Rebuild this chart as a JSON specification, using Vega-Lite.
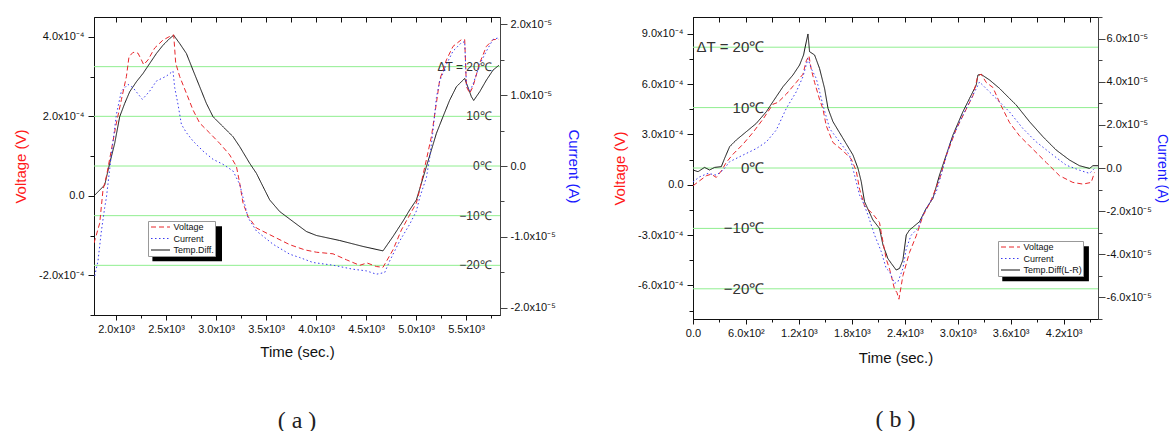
{
  "$schema": "https://vega.github.io/schema/vega-lite/v6.json",
  "padding": {"left": 13, "top": 10, "right": 0, "bottom": 0},
  "spacing": 31,
  "datasets": {
    "a": [
      {"s":"Voltage","t":1780,"y":-1.19e-4},{"s":"Voltage","t":1837,"y":-0.69e-4},{"s":"Voltage","t":1870,"y":0.15e-4},{"s":"Voltage","t":1904,"y":0.49e-4},{"s":"Voltage","t":1954,"y":1.16e-4},{"s":"Voltage","t":2004,"y":1.83e-4},{"s":"Voltage","t":2054,"y":2.42e-4},{"s":"Voltage","t":2104,"y":3.0e-4},{"s":"Voltage","t":2130,"y":3.5e-4},{"s":"Voltage","t":2170,"y":3.61e-4},{"s":"Voltage","t":2220,"y":3.59e-4},{"s":"Voltage","t":2254,"y":3.42e-4},{"s":"Voltage","t":2277,"y":3.30e-4},{"s":"Voltage","t":2320,"y":3.42e-4},{"s":"Voltage","t":2387,"y":3.72e-4},{"s":"Voltage","t":2470,"y":3.92e-4},{"s":"Voltage","t":2537,"y":4.01e-4},{"s":"Voltage","t":2577,"y":4.05e-4},{"s":"Voltage","t":2597,"y":3.34e-4},{"s":"Voltage","t":2637,"y":3.0e-4},{"s":"Voltage","t":2704,"y":2.58e-4},{"s":"Voltage","t":2770,"y":2.16e-4},{"s":"Voltage","t":2837,"y":1.83e-4},{"s":"Voltage","t":2937,"y":1.58e-4},{"s":"Voltage","t":3037,"y":1.32e-4},{"s":"Voltage","t":3137,"y":1.03e-4},{"s":"Voltage","t":3204,"y":0.74e-4},{"s":"Voltage","t":3237,"y":0.32e-4},{"s":"Voltage","t":3270,"y":-0.18e-4},{"s":"Voltage","t":3320,"y":-0.52e-4},{"s":"Voltage","t":3404,"y":-0.81e-4},{"s":"Voltage","t":3570,"y":-1.02e-4},{"s":"Voltage","t":3737,"y":-1.23e-4},{"s":"Voltage","t":3887,"y":-1.36e-4},{"s":"Voltage","t":4004,"y":-1.42e-4},{"s":"Voltage","t":4170,"y":-1.46e-4},{"s":"Voltage","t":4304,"y":-1.61e-4},{"s":"Voltage","t":4437,"y":-1.75e-4},{"s":"Voltage","t":4510,"y":-1.69e-4},{"s":"Voltage","t":4604,"y":-1.78e-4},{"s":"Voltage","t":4670,"y":-1.80e-4},{"s":"Voltage","t":4770,"y":-1.36e-4},{"s":"Voltage","t":4854,"y":-0.86e-4},{"s":"Voltage","t":4937,"y":-0.48e-4},{"s":"Voltage","t":5004,"y":-0.18e-4},{"s":"Voltage","t":5037,"y":0.15e-4},{"s":"Voltage","t":5104,"y":0.91e-4},{"s":"Voltage","t":5154,"y":1.49e-4},{"s":"Voltage","t":5204,"y":2.33e-4},{"s":"Voltage","t":5237,"y":2.92e-4},{"s":"Voltage","t":5304,"y":3.42e-4},{"s":"Voltage","t":5370,"y":3.76e-4},{"s":"Voltage","t":5454,"y":3.93e-4},{"s":"Voltage","t":5487,"y":3.93e-4},{"s":"Voltage","t":5504,"y":2.75e-4},{"s":"Voltage","t":5537,"y":2.58e-4},{"s":"Voltage","t":5570,"y":2.75e-4},{"s":"Voltage","t":5637,"y":3.34e-4},{"s":"Voltage","t":5704,"y":3.76e-4},{"s":"Voltage","t":5770,"y":3.93e-4},{"s":"Voltage","t":5830,"y":3.94e-4},
      {"s":"Current","t":1787,"y":-1.549e-5},{"s":"Current","t":1820,"y":-1.338e-5},{"s":"Current","t":1854,"y":-0.915e-5},{"s":"Current","t":1887,"y":-0.586e-5},{"s":"Current","t":1904,"y":-0.445e-5},{"s":"Current","t":1954,"y":0.165e-5},{"s":"Current","t":2004,"y":0.728e-5},{"s":"Current","t":2054,"y":1.056e-5},{"s":"Current","t":2120,"y":1.150e-5},{"s":"Current","t":2170,"y":1.104e-5},{"s":"Current","t":2264,"y":0.939e-5},{"s":"Current","t":2337,"y":1.056e-5},{"s":"Current","t":2404,"y":1.197e-5},{"s":"Current","t":2504,"y":1.267e-5},{"s":"Current","t":2570,"y":1.338e-5},{"s":"Current","t":2587,"y":1.104e-5},{"s":"Current","t":2620,"y":0.869e-5},{"s":"Current","t":2654,"y":0.587e-5},{"s":"Current","t":2704,"y":0.470e-5},{"s":"Current","t":2770,"y":0.352e-5},{"s":"Current","t":2870,"y":0.211e-5},{"s":"Current","t":2970,"y":0.094e-5},{"s":"Current","t":3070,"y":0.024e-5},{"s":"Current","t":3170,"y":-0.070e-5},{"s":"Current","t":3237,"y":-0.258e-5},{"s":"Current","t":3287,"y":-0.539e-5},{"s":"Current","t":3320,"y":-0.727e-5},{"s":"Current","t":3404,"y":-0.915e-5},{"s":"Current","t":3570,"y":-1.102e-5},{"s":"Current","t":3737,"y":-1.243e-5},{"s":"Current","t":3837,"y":-1.290e-5},{"s":"Current","t":3970,"y":-1.360e-5},{"s":"Current","t":4170,"y":-1.398e-5},{"s":"Current","t":4370,"y":-1.455e-5},{"s":"Current","t":4504,"y":-1.478e-5},{"s":"Current","t":4604,"y":-1.525e-5},{"s":"Current","t":4687,"y":-1.501e-5},{"s":"Current","t":4737,"y":-1.338e-5},{"s":"Current","t":4837,"y":-1.056e-5},{"s":"Current","t":4937,"y":-0.821e-5},{"s":"Current","t":5004,"y":-0.634e-5},{"s":"Current","t":5037,"y":-0.445e-5},{"s":"Current","t":5104,"y":-0.163e-5},{"s":"Current","t":5137,"y":0.118e-5},{"s":"Current","t":5170,"y":0.493e-5},{"s":"Current","t":5204,"y":0.963e-5},{"s":"Current","t":5237,"y":1.197e-5},{"s":"Current","t":5304,"y":1.432e-5},{"s":"Current","t":5370,"y":1.619e-5},{"s":"Current","t":5454,"y":1.737e-5},{"s":"Current","t":5487,"y":1.752e-5},{"s":"Current","t":5504,"y":1.150e-5},{"s":"Current","t":5537,"y":1.056e-5},{"s":"Current","t":5570,"y":1.150e-5},{"s":"Current","t":5637,"y":1.432e-5},{"s":"Current","t":5704,"y":1.619e-5},{"s":"Current","t":5770,"y":1.784e-5},{"s":"Current","t":5830,"y":1.808e-5},
      {"s":"Temp.Diff.","t":1780,"y":-6.03},{"s":"Temp.Diff.","t":1887,"y":-3.82},{"s":"Temp.Diff.","t":1937,"y":0.54},{"s":"Temp.Diff.","t":1987,"y":4.56},{"s":"Temp.Diff.","t":2037,"y":9.93},{"s":"Temp.Diff.","t":2087,"y":12.6},{"s":"Temp.Diff.","t":2137,"y":14.95},{"s":"Temp.Diff.","t":2204,"y":16.96},{"s":"Temp.Diff.","t":2270,"y":18.63},{"s":"Temp.Diff.","t":2337,"y":20.64},{"s":"Temp.Diff.","t":2404,"y":22.65},{"s":"Temp.Diff.","t":2470,"y":24.32},{"s":"Temp.Diff.","t":2537,"y":25.67},{"s":"Temp.Diff.","t":2577,"y":26.33},{"s":"Temp.Diff.","t":2637,"y":24.66},{"s":"Temp.Diff.","t":2704,"y":22.65},{"s":"Temp.Diff.","t":2770,"y":19.3},{"s":"Temp.Diff.","t":2837,"y":15.96},{"s":"Temp.Diff.","t":2904,"y":12.6},{"s":"Temp.Diff.","t":2970,"y":9.93},{"s":"Temp.Diff.","t":3070,"y":7.92},{"s":"Temp.Diff.","t":3170,"y":5.91},{"s":"Temp.Diff.","t":3237,"y":3.9},{"s":"Temp.Diff.","t":3337,"y":0.54},{"s":"Temp.Diff.","t":3404,"y":-1.47},{"s":"Temp.Diff.","t":3470,"y":-4.14},{"s":"Temp.Diff.","t":3537,"y":-6.83},{"s":"Temp.Diff.","t":3637,"y":-9.17},{"s":"Temp.Diff.","t":3770,"y":-11.18},{"s":"Temp.Diff.","t":3904,"y":-13.19},{"s":"Temp.Diff.","t":4004,"y":-13.99},{"s":"Temp.Diff.","t":4237,"y":-15.0},{"s":"Temp.Diff.","t":4470,"y":-16.2},{"s":"Temp.Diff.","t":4670,"y":-17.09},{"s":"Temp.Diff.","t":4770,"y":-14.19},{"s":"Temp.Diff.","t":4870,"y":-11.1},{"s":"Temp.Diff.","t":4937,"y":-8.84},{"s":"Temp.Diff.","t":5004,"y":-6.83},{"s":"Temp.Diff.","t":5104,"y":-0.12},{"s":"Temp.Diff.","t":5204,"y":6.57},{"s":"Temp.Diff.","t":5270,"y":9.93},{"s":"Temp.Diff.","t":5337,"y":13.27},{"s":"Temp.Diff.","t":5404,"y":15.96},{"s":"Temp.Diff.","t":5487,"y":17.63},{"s":"Temp.Diff.","t":5554,"y":13.95},{"s":"Temp.Diff.","t":5577,"y":13.2},{"s":"Temp.Diff.","t":5637,"y":14.95},{"s":"Temp.Diff.","t":5704,"y":17.29},{"s":"Temp.Diff.","t":5770,"y":19.3},{"s":"Temp.Diff.","t":5830,"y":20.3}
    ],
    "b": [
      {"s":"Voltage","t":0,"y":-0.06e-4},{"s":"Voltage","t":75,"y":0.24e-4},{"s":"Voltage","t":151,"y":0.54e-4},{"s":"Voltage","t":207,"y":0.63e-4},{"s":"Voltage","t":264,"y":0.44e-4},{"s":"Voltage","t":321,"y":0.83e-4},{"s":"Voltage","t":377,"y":1.33e-4},{"s":"Voltage","t":453,"y":1.82e-4},{"s":"Voltage","t":567,"y":2.42e-4},{"s":"Voltage","t":680,"y":3.12e-4},{"s":"Voltage","t":793,"y":3.91e-4},{"s":"Voltage","t":906,"y":4.80e-4},{"s":"Voltage","t":963,"y":4.91e-4},{"s":"Voltage","t":1057,"y":5.40e-4},{"s":"Voltage","t":1170,"y":6.10e-4},{"s":"Voltage","t":1246,"y":6.59e-4},{"s":"Voltage","t":1284,"y":7.39e-4},{"s":"Voltage","t":1314,"y":7.69e-4},{"s":"Voltage","t":1340,"y":6.89e-4},{"s":"Voltage","t":1378,"y":6.10e-4},{"s":"Voltage","t":1434,"y":5.10e-4},{"s":"Voltage","t":1473,"y":4.51e-4},{"s":"Voltage","t":1510,"y":3.52e-4},{"s":"Voltage","t":1586,"y":2.52e-4},{"s":"Voltage","t":1700,"y":2.03e-4},{"s":"Voltage","t":1794,"y":1.53e-4},{"s":"Voltage","t":1850,"y":0.83e-4},{"s":"Voltage","t":1888,"y":-0.26e-4},{"s":"Voltage","t":1944,"y":-1.25e-4},{"s":"Voltage","t":2039,"y":-1.75e-4},{"s":"Voltage","t":2114,"y":-2.25e-4},{"s":"Voltage","t":2133,"y":-2.84e-4},{"s":"Voltage","t":2190,"y":-4.43e-4},{"s":"Voltage","t":2228,"y":-5.03e-4},{"s":"Voltage","t":2247,"y":-5.42e-4},{"s":"Voltage","t":2284,"y":-6.22e-4},{"s":"Voltage","t":2311,"y":-6.42e-4},{"s":"Voltage","t":2334,"y":-6.82e-4},{"s":"Voltage","t":2379,"y":-5.42e-4},{"s":"Voltage","t":2454,"y":-4.03e-4},{"s":"Voltage","t":2530,"y":-3.04e-4},{"s":"Voltage","t":2606,"y":-1.85e-4},{"s":"Voltage","t":2689,"y":-1.05e-4},{"s":"Voltage","t":2794,"y":0.33e-4},{"s":"Voltage","t":2870,"y":1.73e-4},{"s":"Voltage","t":2983,"y":3.31e-4},{"s":"Voltage","t":3097,"y":4.51e-4},{"s":"Voltage","t":3172,"y":5.30e-4},{"s":"Voltage","t":3229,"y":6.50e-4},{"s":"Voltage","t":3266,"y":6.59e-4},{"s":"Voltage","t":3323,"y":6.10e-4},{"s":"Voltage","t":3399,"y":5.80e-4},{"s":"Voltage","t":3474,"y":4.91e-4},{"s":"Voltage","t":3587,"y":3.71e-4},{"s":"Voltage","t":3700,"y":2.92e-4},{"s":"Voltage","t":3852,"y":2.12e-4},{"s":"Voltage","t":4003,"y":1.33e-4},{"s":"Voltage","t":4154,"y":0.54e-4},{"s":"Voltage","t":4305,"y":0.14e-4},{"s":"Voltage","t":4419,"y":0.04e-4},{"s":"Voltage","t":4513,"y":0.14e-4},{"s":"Voltage","t":4550,"y":0.73e-4},
      {"s":"Current","t":0,"y":-0.64e-5},{"s":"Current","t":75,"y":-0.41e-5},{"s":"Current","t":170,"y":-0.25e-5},{"s":"Current","t":264,"y":-0.33e-5},{"s":"Current","t":340,"y":-0.10e-5},{"s":"Current","t":415,"y":0.29e-5},{"s":"Current","t":567,"y":0.60e-5},{"s":"Current","t":717,"y":0.90e-5},{"s":"Current","t":831,"y":1.21e-5},{"s":"Current","t":944,"y":1.76e-5},{"s":"Current","t":1057,"y":2.76e-5},{"s":"Current","t":1170,"y":3.53e-5},{"s":"Current","t":1246,"y":4.23e-5},{"s":"Current","t":1303,"y":5.07e-5},{"s":"Current","t":1340,"y":4.61e-5},{"s":"Current","t":1397,"y":4.15e-5},{"s":"Current","t":1473,"y":2.91e-5},{"s":"Current","t":1548,"y":1.83e-5},{"s":"Current","t":1661,"y":1.21e-5},{"s":"Current","t":1774,"y":0.60e-5},{"s":"Current","t":1831,"y":-0.33e-5},{"s":"Current","t":1888,"y":-1.26e-5},{"s":"Current","t":1926,"y":-1.57e-5},{"s":"Current","t":1983,"y":-2.18e-5},{"s":"Current","t":2058,"y":-3.11e-5},{"s":"Current","t":2134,"y":-3.88e-5},{"s":"Current","t":2190,"y":-4.66e-5},{"s":"Current","t":2228,"y":-4.81e-5},{"s":"Current","t":2284,"y":-5.35e-5},{"s":"Current","t":2323,"y":-5.27e-5},{"s":"Current","t":2379,"y":-4.66e-5},{"s":"Current","t":2417,"y":-3.73e-5},{"s":"Current","t":2473,"y":-3.11e-5},{"s":"Current","t":2549,"y":-2.80e-5},{"s":"Current","t":2606,"y":-2.18e-5},{"s":"Current","t":2643,"y":-1.88e-5},{"s":"Current","t":2757,"y":-1.10e-5},{"s":"Current","t":2832,"y":-0.02e-5},{"s":"Current","t":2907,"y":1.06e-5},{"s":"Current","t":3021,"y":2.14e-5},{"s":"Current","t":3134,"y":3.07e-5},{"s":"Current","t":3210,"y":3.68e-5},{"s":"Current","t":3247,"y":3.99e-5},{"s":"Current","t":3323,"y":3.68e-5},{"s":"Current","t":3436,"y":3.22e-5},{"s":"Current","t":3587,"y":2.60e-5},{"s":"Current","t":3739,"y":1.83e-5},{"s":"Current","t":3890,"y":1.21e-5},{"s":"Current","t":4079,"y":0.60e-5},{"s":"Current","t":4230,"y":0.13e-5},{"s":"Current","t":4380,"y":-0.10e-5},{"s":"Current","t":4494,"y":-0.25e-5},{"s":"Current","t":4550,"y":-0.02e-5},
      {"s":"Temp.Diff(L-R)","t":0,"y":-0.33},{"s":"Temp.Diff(L-R)","t":57,"y":-0.61},{"s":"Temp.Diff(L-R)","t":131,"y":0.10},{"s":"Temp.Diff(L-R)","t":188,"y":-0.33},{"s":"Temp.Diff(L-R)","t":245,"y":0.10},{"s":"Temp.Diff(L-R)","t":321,"y":0.22},{"s":"Temp.Diff(L-R)","t":358,"y":1.59},{"s":"Temp.Diff(L-R)","t":415,"y":3.53},{"s":"Temp.Diff(L-R)","t":491,"y":4.64},{"s":"Temp.Diff(L-R)","t":604,"y":6.01},{"s":"Temp.Diff(L-R)","t":717,"y":7.38},{"s":"Temp.Diff(L-R)","t":831,"y":9.32},{"s":"Temp.Diff(L-R)","t":906,"y":10.98},{"s":"Temp.Diff(L-R)","t":1020,"y":13.46},{"s":"Temp.Diff(L-R)","t":1133,"y":15.40},{"s":"Temp.Diff(L-R)","t":1208,"y":17.05},{"s":"Temp.Diff(L-R)","t":1253,"y":18.71},{"s":"Temp.Diff(L-R)","t":1276,"y":20.36},{"s":"Temp.Diff(L-R)","t":1303,"y":22.19},{"s":"Temp.Diff(L-R)","t":1321,"y":19.26},{"s":"Temp.Diff(L-R)","t":1378,"y":18.71},{"s":"Temp.Diff(L-R)","t":1434,"y":16.49},{"s":"Temp.Diff(L-R)","t":1491,"y":13.18},{"s":"Temp.Diff(L-R)","t":1530,"y":9.87},{"s":"Temp.Diff(L-R)","t":1586,"y":7.67},{"s":"Temp.Diff(L-R)","t":1700,"y":4.90},{"s":"Temp.Diff(L-R)","t":1813,"y":2.15},{"s":"Temp.Diff(L-R)","t":1870,"y":-0.07},{"s":"Temp.Diff(L-R)","t":1907,"y":-2.27},{"s":"Temp.Diff(L-R)","t":1944,"y":-5.58},{"s":"Temp.Diff(L-R)","t":2039,"y":-8.61},{"s":"Temp.Diff(L-R)","t":2114,"y":-10.0},{"s":"Temp.Diff(L-R)","t":2153,"y":-12.75},{"s":"Temp.Diff(L-R)","t":2209,"y":-15.0},{"s":"Temp.Diff(L-R)","t":2247,"y":-15.79},{"s":"Temp.Diff(L-R)","t":2303,"y":-16.89},{"s":"Temp.Diff(L-R)","t":2341,"y":-16.62},{"s":"Temp.Diff(L-R)","t":2379,"y":-15.23},{"s":"Temp.Diff(L-R)","t":2417,"y":-11.09},{"s":"Temp.Diff(L-R)","t":2454,"y":-10.26},{"s":"Temp.Diff(L-R)","t":2567,"y":-8.89},{"s":"Temp.Diff(L-R)","t":2643,"y":-6.69},{"s":"Temp.Diff(L-R)","t":2719,"y":-5.03},{"s":"Temp.Diff(L-R)","t":2794,"y":-1.16},{"s":"Temp.Diff(L-R)","t":2870,"y":2.15},{"s":"Temp.Diff(L-R)","t":2946,"y":5.46},{"s":"Temp.Diff(L-R)","t":3059,"y":9.32},{"s":"Temp.Diff(L-R)","t":3134,"y":11.52},{"s":"Temp.Diff(L-R)","t":3210,"y":13.74},{"s":"Temp.Diff(L-R)","t":3229,"y":15.40},{"s":"Temp.Diff(L-R)","t":3266,"y":15.50},{"s":"Temp.Diff(L-R)","t":3361,"y":14.57},{"s":"Temp.Diff(L-R)","t":3474,"y":13.18},{"s":"Temp.Diff(L-R)","t":3587,"y":11.52},{"s":"Temp.Diff(L-R)","t":3663,"y":10.43},{"s":"Temp.Diff(L-R)","t":3814,"y":7.67},{"s":"Temp.Diff(L-R)","t":3966,"y":5.18},{"s":"Temp.Diff(L-R)","t":4116,"y":2.98},{"s":"Temp.Diff(L-R)","t":4267,"y":1.32},{"s":"Temp.Diff(L-R)","t":4380,"y":0.38},{"s":"Temp.Diff(L-R)","t":4494,"y":-0.07},{"s":"Temp.Diff(L-R)","t":4532,"y":0.38},{"s":"Temp.Diff(L-R)","t":4590,"y":0.38}
    ],
    "temps": [
      {"T":20,"label":"ΔT = 20℃"},{"T":10,"label":"10℃"},{"T":0,"label":"0℃"},{"T":-10,"label":"−10℃"},{"T":-20,"label":"−20℃"}
    ]
  },
  "hconcat": [
    {
      "width": 406,
      "height": 298,
      "title": {"text": "( a )", "orient": "bottom", "anchor": "middle", "frame": "group", "offset": 50, "font": "Liberation Serif", "fontSize": 24, "fontWeight": "normal", "color": "#222"},
      "data": {"name": "a"},
      "layer": [
        {
          "layer": [
            {
              "data": {"name": "temps"},
              "mark": {"type": "rule", "color": "#90ee90", "strokeWidth": 1},
              "encoding": {
                "y": {"field": "T", "type": "quantitative", "scale": {"domain": [-30, 30], "nice": false, "zero": false}, "axis": null}
              }
            },
            {
              "data": {"values": [{}]},
              "mark": {"type": "rect", "color": "black"},
              "encoding": {
                "x": {"datum": 2364, "type": "quantitative", "scale": {"domain": [1780, 5840], "nice": false, "zero": false}, "axis": null},
                "x2": {"datum": 3060},
                "y": {"datum": -12.14, "type": "quantitative", "scale": {"domain": [-30, 30], "nice": false, "zero": false}, "axis": null},
                "y2": {"datum": -19.16}
              }
            },
            {
              "data": {"name": "temps"},
              "mark": {"type": "text", "align": "right", "baseline": "middle", "fontSize": 12, "font": "Liberation Sans", "color": "#333"},
              "encoding": {
                "x": {"datum": 5757, "type": "quantitative", "scale": {"domain": [1780, 5840], "nice": false, "zero": false}, "axis": null},
                "y": {"field": "T", "type": "quantitative", "scale": {"domain": [-30, 30], "nice": false, "zero": false}, "axis": null},
                "text": {"field": "label"}
              }
            },
            {
              "transform": [{"filter": "datum.s == 'Temp.Diff.'"}],
              "mark": {"type": "line", "strokeWidth": 1, "clip": true},
              "encoding": {
                "x": {"field": "t", "type": "quantitative", "scale": {"domain": [1780, 5840], "nice": false, "zero": false}, "axis": null},
                "y": {"field": "y", "type": "quantitative", "scale": {"domain": [-30, 30], "nice": false, "zero": false}, "axis": null},
                "color": {"field": "s", "type": "nominal", "scale": {"domain": ["Voltage", "Current", "Temp.Diff."], "range": ["#e8262b", "#3b3bf0", "#111111"]},
                  "legend": {"orient": "none", "legendX": 54, "legendY": 204, "title": null, "direction": "vertical", "fillColor": "white", "strokeColor": "#999", "padding": 0.5, "symbolType": "M-0.6,0H3.2", "symbolSize": 100, "symbolStrokeWidth": 1, "labelFontSize": 9, "labelFont": "Liberation Sans", "labelOffset": 14, "rowPadding": 0.5, "labelColor": "#111"}},
                "strokeDash": {"field": "s", "type": "nominal", "scale": {"domain": ["Voltage", "Current", "Temp.Diff."], "range": [[5, 3], [1.5, 2.5], [1, 0]]},
                  "legend": {"orient": "none", "legendX": 54, "legendY": 204, "title": null, "direction": "vertical", "fillColor": "white", "strokeColor": "#999", "padding": 0.5, "symbolType": "M-0.6,0H3.2", "symbolSize": 100, "symbolStrokeWidth": 1, "labelFontSize": 9, "labelFont": "Liberation Sans", "labelOffset": 14, "rowPadding": 0.5, "labelColor": "#111"}}
              }
            }
          ]
        },
        {
          "transform": [{"filter": "datum.s == 'Voltage'"}],
          "mark": {"type": "line", "strokeWidth": 1, "clip": true},
          "encoding": {
            "x": {"field": "t", "type": "quantitative", "scale": {"domain": [1780, 5840], "nice": false, "zero": false},
              "axis": {"orient": "bottom", "values": [2000, 2250, 2500, 2750, 3000, 3250, 3500, 3750, 4000, 4250, 4500, 4750, 5000, 5250, 5500, 5750],
                "labelExpr": "datum.value % 500 == 0 ? format(datum.value/1000, '.1f') + 'x10³' : ''",
                "tickSize": {"condition": {"test": "datum.value % 500 != 0", "value": 3}, "value": 5},
                "title": "Time (sec.)", "titlePadding": 10, "labelPadding": 3}},
            "y": {"field": "y", "type": "quantitative", "scale": {"domain": [-3e-4, 4.5e-4], "nice": false, "zero": false},
              "axis": {"orient": "left", "values": [-3e-4, -2e-4, -1e-4, 0, 1e-4, 2e-4, 3e-4, 4e-4],
                "labelExpr": "round(datum.value*1e4) % 2 != 0 ? '' : datum.value == 0 ? '0.0' : (datum.value < 0 ? '-' : '') + format(abs(datum.value)*1e4, '.1f') + 'x10⁻⁴'",
                "tickSize": {"condition": {"test": "round(datum.value*1e4) % 2 != 0", "value": 4}, "value": 6},
                "title": "Voltage (V)", "titleColor": "#ff1a1a", "labelPadding": 4, "titlePadding": 10}},
            "color": {"field": "s", "type": "nominal", "scale": {"domain": ["Voltage", "Current", "Temp.Diff."], "range": ["#e8262b", "#3b3bf0", "#111111"]},
              "legend": {"orient": "none", "legendX": 54, "legendY": 204, "title": null, "direction": "vertical", "fillColor": "white", "strokeColor": "#999", "padding": 0.5, "symbolType": "M-0.6,0H3.2", "symbolSize": 100, "symbolStrokeWidth": 1, "labelFontSize": 9, "labelFont": "Liberation Sans", "labelOffset": 14, "rowPadding": 0.5, "labelColor": "#111"}},
            "strokeDash": {"field": "s", "type": "nominal", "scale": {"domain": ["Voltage", "Current", "Temp.Diff."], "range": [[5, 3], [1.5, 2.5], [1, 0]]},
              "legend": {"orient": "none", "legendX": 54, "legendY": 204, "title": null, "direction": "vertical", "fillColor": "white", "strokeColor": "#999", "padding": 0.5, "symbolType": "M-0.6,0H3.2", "symbolSize": 100, "symbolStrokeWidth": 1, "labelFontSize": 9, "labelFont": "Liberation Sans", "labelOffset": 14, "rowPadding": 0.5, "labelColor": "#111"}}
          }
        },
        {
          "transform": [{"filter": "datum.s == 'Current'"}],
          "mark": {"type": "line", "strokeWidth": 1, "clip": true},
          "encoding": {
            "x": {"field": "t", "type": "quantitative", "scale": {"domain": [1780, 5840], "nice": false, "zero": false},
              "axis": {"orient": "top", "values": [2000, 2250, 2500, 2750, 3000, 3250, 3500, 3750, 4000, 4250, 4500, 4750, 5000, 5250, 5500, 5750], "labels": false, "tickSize": -5, "title": null, "domain": false}},
            "y": {"field": "y", "type": "quantitative", "scale": {"domain": [-2.1e-5, 2.1e-5], "nice": false, "zero": false},
              "axis": {"orient": "right", "values": [-2e-5, -1.5e-5, -1e-5, -5e-6, 0, 5e-6, 1e-5, 1.5e-5, 2e-5],
                "labelExpr": "round(datum.value*2e5) % 2 != 0 ? '' : datum.value == 0 ? '0.0' : (datum.value < 0 ? '-' : '') + format(abs(datum.value)*1e5, '.1f') + 'x10⁻⁵'",
                "tickSize": {"condition": {"test": "round(datum.value*2e5) % 2 != 0", "value": 4}, "value": 7},
                "title": "Current (A)", "titleColor": "#1a1aff", "labelPadding": 3, "titlePadding": 10, "domainColor": "#444", "tickColor": "#444"}},
            "color": {"field": "s", "type": "nominal", "scale": {"domain": ["Voltage", "Current", "Temp.Diff."], "range": ["#e8262b", "#3b3bf0", "#111111"]},
              "legend": {"orient": "none", "legendX": 54, "legendY": 204, "title": null, "direction": "vertical", "fillColor": "white", "strokeColor": "#999", "padding": 0.5, "symbolType": "M-0.6,0H3.2", "symbolSize": 100, "symbolStrokeWidth": 1, "labelFontSize": 9, "labelFont": "Liberation Sans", "labelOffset": 14, "rowPadding": 0.5, "labelColor": "#111"}},
            "strokeDash": {"field": "s", "type": "nominal", "scale": {"domain": ["Voltage", "Current", "Temp.Diff."], "range": [[5, 3], [1.5, 2.5], [1, 0]]},
              "legend": {"orient": "none", "legendX": 54, "legendY": 204, "title": null, "direction": "vertical", "fillColor": "white", "strokeColor": "#999", "padding": 0.5, "symbolType": "M-0.6,0H3.2", "symbolSize": 100, "symbolStrokeWidth": 1, "labelFontSize": 9, "labelFont": "Liberation Sans", "labelOffset": 14, "rowPadding": 0.5, "labelColor": "#111"}}
          }
        }
      ],
      "resolve": {"scale": {"y": "independent"}, "axis": {"x": "independent"}}
    },
    {
      "width": 405,
      "height": 302,
      "title": {"text": "( b )", "orient": "bottom", "anchor": "middle", "frame": "group", "offset": 43, "font": "Liberation Serif", "fontSize": 24, "fontWeight": "normal", "color": "#222"},
      "data": {"name": "b"},
      "layer": [
        {
          "layer": [
            {
              "data": {"name": "temps"},
              "mark": {"type": "rule", "color": "#90ee90", "strokeWidth": 1},
              "encoding": {
                "y": {"field": "T", "type": "quantitative", "scale": {"domain": [-25, 25], "nice": false, "zero": false}, "axis": null}
              }
            },
            {
              "data": {"values": [{}]},
              "mark": {"type": "rect", "color": "black"},
              "encoding": {
                "x": {"datum": 3505, "type": "quantitative", "scale": {"domain": [0, 4590], "nice": false, "zero": false}, "axis": null},
                "x2": {"datum": 4487},
                "y": {"datum": -12.94, "type": "quantitative", "scale": {"domain": [-25, 25], "nice": false, "zero": false}, "axis": null},
                "y2": {"datum": -18.74}
              }
            },
            {
              "data": {"name": "temps"},
              "mark": {"type": "text", "align": "right", "baseline": "middle", "fontSize": 15, "font": "Liberation Sans", "color": "#333"},
              "encoding": {
                "x": {"datum": 808, "type": "quantitative", "scale": {"domain": [0, 4590], "nice": false, "zero": false}, "axis": null},
                "y": {"field": "T", "type": "quantitative", "scale": {"domain": [-25, 25], "nice": false, "zero": false}, "axis": null},
                "text": {"field": "label"}
              }
            },
            {
              "transform": [{"filter": "datum.s == 'Temp.Diff(L-R)'"}],
              "mark": {"type": "line", "strokeWidth": 1, "clip": true},
              "encoding": {
                "x": {"field": "t", "type": "quantitative", "scale": {"domain": [0, 4590], "nice": false, "zero": false}, "axis": null},
                "y": {"field": "y", "type": "quantitative", "scale": {"domain": [-25, 25], "nice": false, "zero": false}, "axis": null},
                "color": {"field": "s", "type": "nominal", "scale": {"domain": ["Voltage", "Current", "Temp.Diff(L-R)"], "range": ["#e8262b", "#3b3bf0", "#111111"]},
                  "legend": {"orient": "none", "legendX": 305, "legendY": 224, "title": null, "direction": "vertical", "fillColor": "white", "strokeColor": "#999", "padding": 0.5, "symbolType": "M-0.6,0H3.2", "symbolSize": 100, "symbolStrokeWidth": 1, "labelFontSize": 9, "labelFont": "Liberation Sans", "labelOffset": 14, "rowPadding": 0.5, "labelColor": "#111"}},
                "strokeDash": {"field": "s", "type": "nominal", "scale": {"domain": ["Voltage", "Current", "Temp.Diff(L-R)"], "range": [[5, 3], [1.5, 2.5], [1, 0]]},
                  "legend": {"orient": "none", "legendX": 305, "legendY": 224, "title": null, "direction": "vertical", "fillColor": "white", "strokeColor": "#999", "padding": 0.5, "symbolType": "M-0.6,0H3.2", "symbolSize": 100, "symbolStrokeWidth": 1, "labelFontSize": 9, "labelFont": "Liberation Sans", "labelOffset": 14, "rowPadding": 0.5, "labelColor": "#111"}}
              }
            }
          ]
        },
        {
          "transform": [{"filter": "datum.s == 'Voltage'"}],
          "mark": {"type": "line", "strokeWidth": 1, "clip": true},
          "encoding": {
            "x": {"field": "t", "type": "quantitative", "scale": {"domain": [0, 4590], "nice": false, "zero": false},
              "axis": {"orient": "bottom", "values": [0, 300, 600, 900, 1200, 1500, 1800, 2100, 2400, 2700, 3000, 3300, 3600, 3900, 4200, 4500],
                "labelExpr": "round(datum.value/300) % 2 != 0 ? '' : datum.value == 0 ? '0.0' : datum.value < 1000 ? format(datum.value/100, '.1f') + 'x10²' : format(datum.value/1000, '.1f') + 'x10³'",
                "tickSize": {"condition": {"test": "round(datum.value/300) % 2 != 0", "value": 3}, "value": 5},
                "title": "Time (sec.)", "titlePadding": 12, "labelPadding": 3}},
            "y": {"field": "y", "type": "quantitative", "scale": {"domain": [-8e-4, 1e-3], "nice": false, "zero": false},
              "axis": {"orient": "left", "values": [-7.5e-4, -6e-4, -4.5e-4, -3e-4, -1.5e-4, 0, 1.5e-4, 3e-4, 4.5e-4, 6e-4, 7.5e-4, 9e-4],
                "labelExpr": "round(datum.value/1.5e-4) % 2 != 0 ? '' : datum.value == 0 ? '0.0' : (datum.value < 0 ? '-' : '') + format(abs(datum.value)*1e4, '.1f') + 'x10⁻⁴'",
                "tickSize": {"condition": {"test": "round(datum.value/1.5e-4) % 2 != 0", "value": 4}, "value": 6},
                "title": "Voltage (V)", "titleColor": "#ff1a1a", "labelPadding": 4, "titlePadding": 10}},
            "color": {"field": "s", "type": "nominal", "scale": {"domain": ["Voltage", "Current", "Temp.Diff(L-R)"], "range": ["#e8262b", "#3b3bf0", "#111111"]},
              "legend": {"orient": "none", "legendX": 305, "legendY": 224, "title": null, "direction": "vertical", "fillColor": "white", "strokeColor": "#999", "padding": 0.5, "symbolType": "M-0.6,0H3.2", "symbolSize": 100, "symbolStrokeWidth": 1, "labelFontSize": 9, "labelFont": "Liberation Sans", "labelOffset": 14, "rowPadding": 0.5, "labelColor": "#111"}},
            "strokeDash": {"field": "s", "type": "nominal", "scale": {"domain": ["Voltage", "Current", "Temp.Diff(L-R)"], "range": [[5, 3], [1.5, 2.5], [1, 0]]},
              "legend": {"orient": "none", "legendX": 305, "legendY": 224, "title": null, "direction": "vertical", "fillColor": "white", "strokeColor": "#999", "padding": 0.5, "symbolType": "M-0.6,0H3.2", "symbolSize": 100, "symbolStrokeWidth": 1, "labelFontSize": 9, "labelFont": "Liberation Sans", "labelOffset": 14, "rowPadding": 0.5, "labelColor": "#111"}}
          }
        },
        {
          "transform": [{"filter": "datum.s == 'Current'"}],
          "mark": {"type": "line", "strokeWidth": 1, "clip": true},
          "encoding": {
            "x": {"field": "t", "type": "quantitative", "scale": {"domain": [0, 4590], "nice": false, "zero": false},
              "axis": {"orient": "top", "values": [0, 300, 600, 900, 1200, 1500, 1800, 2100, 2400, 2700, 3000, 3300, 3600, 3900, 4200, 4500], "labels": false, "tickSize": -5, "title": null, "domain": false}},
            "y": {"field": "y", "type": "quantitative", "scale": {"domain": [-7e-5, 7e-5], "nice": false, "zero": false},
              "axis": {"orient": "right", "values": [-7e-5, -6e-5, -5e-5, -4e-5, -3e-5, -2e-5, -1e-5, 0, 1e-5, 2e-5, 3e-5, 4e-5, 5e-5, 6e-5, 7e-5],
                "labelExpr": "round(datum.value*1e5) % 2 != 0 ? '' : datum.value == 0 ? '0.0' : (datum.value < 0 ? '-' : '') + format(abs(datum.value)*1e5, '.1f') + 'x10⁻⁵'",
                "tickSize": {"condition": {"test": "round(datum.value*1e5) % 2 != 0", "value": 4}, "value": 7},
                "title": "Current (A)", "titleColor": "#1a1aff", "titleFontSize": 14, "labelPadding": 1, "titlePadding": 3, "domainColor": "#444", "tickColor": "#444"}},
            "color": {"field": "s", "type": "nominal", "scale": {"domain": ["Voltage", "Current", "Temp.Diff(L-R)"], "range": ["#e8262b", "#3b3bf0", "#111111"]},
              "legend": {"orient": "none", "legendX": 305, "legendY": 224, "title": null, "direction": "vertical", "fillColor": "white", "strokeColor": "#999", "padding": 0.5, "symbolType": "M-0.6,0H3.2", "symbolSize": 100, "symbolStrokeWidth": 1, "labelFontSize": 9, "labelFont": "Liberation Sans", "labelOffset": 14, "rowPadding": 0.5, "labelColor": "#111"}},
            "strokeDash": {"field": "s", "type": "nominal", "scale": {"domain": ["Voltage", "Current", "Temp.Diff(L-R)"], "range": [[5, 3], [1.5, 2.5], [1, 0]]},
              "legend": {"orient": "none", "legendX": 305, "legendY": 224, "title": null, "direction": "vertical", "fillColor": "white", "strokeColor": "#999", "padding": 0.5, "symbolType": "M-0.6,0H3.2", "symbolSize": 100, "symbolStrokeWidth": 1, "labelFontSize": 9, "labelFont": "Liberation Sans", "labelOffset": 14, "rowPadding": 0.5, "labelColor": "#111"}}
          }
        }
      ],
      "resolve": {"scale": {"y": "independent"}, "axis": {"x": "independent"}}
    }
  ],
  "resolve": {"scale": {"color": "independent", "strokeDash": "independent"}, "legend": {"color": "independent", "strokeDash": "independent"}},
  "config": {
    "font": "Liberation Sans",
    "view": {"stroke": "#111", "strokeWidth": 1},
    "axis": {"labelFont": "Liberation Sans", "labelFontSize": 11, "labelColor": "#111", "titleFont": "Liberation Sans", "titleFontSize": 15, "titleFontWeight": "normal", "titleColor": "#111", "grid": false, "domainColor": "#111", "tickColor": "#111", "labelFlush": false, "labelOverlap": false, "labelBound": false}
  }
}
